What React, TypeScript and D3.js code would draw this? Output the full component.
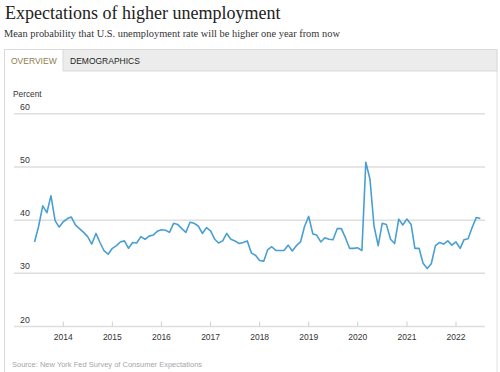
import * as d3 from 'd3';

// monthly survey values, June 2013 .. July 2022
const startYear = 2013;
const startMonth = 5; // June (0-based)
const values = [
  35.9, 38.8, 42.7, 41.4, 44.6, 39.9, 38.7,
  39.7, 40.3, 40.6, 39.1, 38.4, 37.7, 36.9, 35.5, 37.5, 35.8, 34.2, 33.6,
  34.7, 35.2, 35.9, 36.1, 34.7, 35.8, 35.7, 36.9, 36.4, 37.0, 37.2, 37.9,
  38.2, 38.1, 37.7, 39.4, 39.2, 38.4, 37.7, 39.6, 39.4, 38.9, 37.5, 38.6,
  38.0, 36.4, 35.7, 36.1, 37.5, 36.4, 36.1, 35.6, 35.8, 36.1, 33.8, 33.4,
  32.4, 32.3, 34.4, 35.0, 34.3, 34.3, 34.3, 35.3, 34.2, 35.2, 35.9, 38.8,
  40.7, 37.4, 37.2, 35.9, 36.7, 36.4, 36.3, 38.4, 38.4, 36.7, 34.7, 34.7,
  34.8, 34.3, 50.9, 47.7, 38.9, 35.2, 39.4, 39.2, 36.4, 35.6, 40.2, 39.1,
  40.2, 39.2, 34.7, 34.7, 31.9, 30.9, 31.8, 35.2, 35.8, 35.5, 36.1, 35.3,
  35.9, 34.7, 36.3, 36.5, 38.6, 40.5, 40.3,
];
const yTicks = [20, 30, 40, 50, 60];
const xYears = [2014, 2015, 2016, 2017, 2018, 2019, 2020, 2021, 2022];

const points = values.map((v, i) => ({ date: new Date(startYear, startMonth + i, 1), value: v }));

const sans = '"Liberation Sans", Arial, sans-serif';
const serif = '"Liberation Serif", Georgia, serif';

export default function App() {
  const x = d3.scaleTime()
    .domain([new Date(2014, 0, 1), new Date(2022, 0, 1)])
    .range([63.3, 456]);
  const y = d3.scaleLinear().domain([20, 60]).range([326.5, 113.8]);

  const line = d3.line<{ date: Date; value: number }>()
    .x(d => x(d.date))
    .y(d => y(d.value));

  const gridLeft = 14;
  const gridRight = 485;

  return (
    <svg width={500} height={372} style={{ position: 'absolute', left: 0, top: 0, background: '#fff' }}>
      <text x={5} y={18.5} fontFamily={serif} fontSize={18} fill="#222">
        Expectations of higher unemployment
      </text>
      <text x={4} y={36.5} fontFamily={serif} fontSize={10.4} fill="#333">
        Mean probability that U.S. unemployment rate will be higher one year from now
      </text>

      {/* tab bar + panel */}
      <rect x={4.5} y={49.5} width={492.5} height={21.5} fill="#ececec" stroke="#d9d9d9" />
      <rect x={4.5} y={49.5} width={58.5} height={22.5} fill="#fff" />
      <line x1={4.5} x2={63} y1={49.5} y2={49.5} stroke="#d9d9d9" />
      <line x1={63} x2={63} y1={49.5} y2={71} stroke="#d9d9d9" />
      <line x1={4.5} x2={4.5} y1={49.5} y2={372} stroke="#d9d9d9" />
      <line x1={497} x2={497} y1={49.5} y2={372} stroke="#e2e2e2" />
      <text x={11} y={64} fontFamily={sans} fontSize={8.5} fill="#8d7d4c">OVERVIEW</text>
      <text x={70} y={64} fontFamily={sans} fontSize={8.5} fill="#222">DEMOGRAPHICS</text>

      <text x={13} y={96.5} fontFamily={sans} fontSize={8.3} fill="#333">Percent</text>

      {yTicks.map(t => (
        <g key={t}>
          <line x1={gridLeft} x2={gridRight} y1={y(t)} y2={y(t)} stroke="#dedede" strokeWidth={1.5} />
          <text x={20} y={y(t) - 4} fontFamily={sans} fontSize={8.8} fill="#333">{t}</text>
        </g>
      ))}

      {xYears.map(yr => {
        const xp = x(new Date(yr, 0, 1));
        return (
          <g key={yr}>
            <line x1={xp} x2={xp} y1={y(20) - 5} y2={y(20)} stroke="#cfcfcf" />
            <text x={xp} y={339.5} textAnchor="middle" fontFamily={sans} fontSize={8.5} fill="#333">{yr}</text>
          </g>
        );
      })}

      <path d={line(points) ?? ''} fill="none" stroke="#4a9fd2" strokeWidth={1.6} strokeLinejoin="round" />

      <text x={12} y={367} fontFamily={sans} fontSize={7.5} fill="#a6a6a6">
        Source: New York Fed Survey of Consumer Expectations
      </text>
    </svg>
  );
}
